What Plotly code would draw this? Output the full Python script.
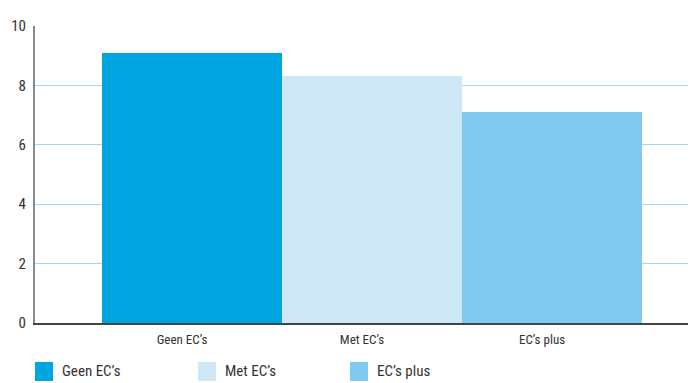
import plotly.graph_objects as go

# Gemiddelde score per groep
categories = ["Geen EC’s", "Met EC’s", "EC’s plus"]
values = [9.1, 8.3, 7.1]
colors = ["#00a6e2", "#cde7f7", "#80caf0"]
y_ticks = [0, 2, 4, 6, 8, 10]

FONT = "Liberation Sans Narrow, Roboto Condensed, Arial Narrow, Roboto, sans-serif"

fig = go.Figure()
for i, (cat, val, col) in enumerate(zip(categories, values, colors)):
    fig.add_trace(go.Bar(
        x=[i], y=[val], width=1.0, offset=-0.444,
        marker=dict(color=col, line=dict(width=0)),
        name=cat, showlegend=False,
    ))

fig.update_layout(
    width=692, height=383,
    margin=dict(l=35, r=4, t=26, b=60),
    paper_bgcolor="white", plot_bgcolor="white",
    font=dict(family=FONT, color="#333333"),
    bargap=0,
    xaxis=dict(
        range=[-0.8167, 2.811],
        tickmode="array", tickvals=list(range(len(categories))), ticktext=categories,
        tickfont=dict(size=13, color="#333333"),
        showgrid=False, zeroline=False,
        showline=True, linecolor="#444444", linewidth=1.5,
        ticks="", ticklabelstandoff=4,
    ),
    yaxis=dict(
        range=[0, 10],
        tickmode="array", tickvals=y_ticks,
        tickfont=dict(size=15, color="#333333"),
        showgrid=True, gridcolor="#9fd8f2", gridwidth=1,
        zeroline=False,
        showline=True, linecolor="#888888", linewidth=2,
        ticks="", ticklabelstandoff=4,
    ),
)

# Legenda onder de grafiek
legend_x = [35, 198, 350]
for cat, col, lx in zip(categories, colors, legend_x):
    fig.add_shape(type="rect", xref="paper", yref="paper",
                  x0=(lx - 35) / 653, x1=(lx + 18 - 35) / 653,
                  y0=-(381 - 323) / 297, y1=-(362 - 323) / 297,
                  fillcolor=col, line=dict(width=0))
    fig.add_annotation(xref="paper", yref="paper",
                       x=(lx + 25 - 35) / 653, y=-(371 - 323) / 297,
                       text=cat, showarrow=False, xanchor="left", yanchor="middle",
                       font=dict(family=FONT, size=15, color="#333333"))

fig.write_html("out.html")
